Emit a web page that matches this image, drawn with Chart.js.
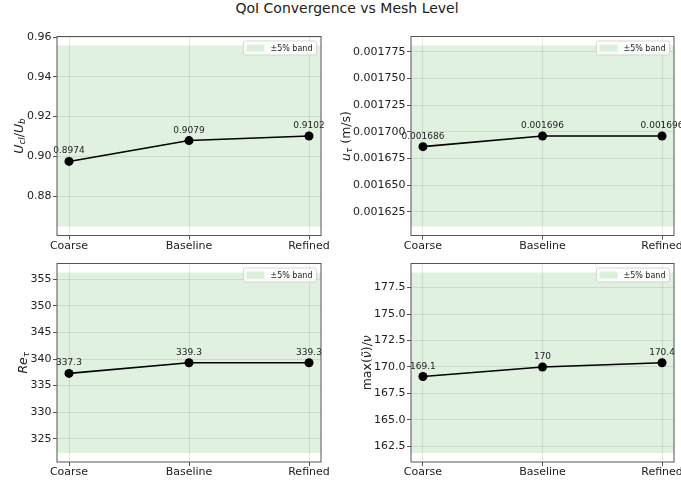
<!DOCTYPE html>
<html lang="en">

<head>
  <meta charset="UTF-8">
  <title>QoI Convergence vs Mesh Level</title>
  <script src="https://cdn.jsdelivr.net/npm/chart.js"></script>
  <style>
    body {
      margin: 0;
      width: 681px;
      height: 484px;
      overflow: hidden;
      background: #fff;
      position: relative;
      font-family: "DejaVu Sans", sans-serif;
    }

    canvas {
      position: absolute;
      left: 0;
      top: 0;
    }

    #title {
      position: absolute;
      left: 347px;
      top: 0;
      transform: translateX(-50%);
      white-space: nowrap;
      font-size: 14px;
      line-height: 16px;
      color: #222;
    }
  </style>
</head>

<body>
  <div id="title">QoI Convergence vs Mesh Level</div>
  <canvas id="c1" width="681" height="484"></canvas>
  <canvas id="c2" width="681" height="484"></canvas>
  <canvas id="c3" width="681" height="484"></canvas>
  <canvas id="c4" width="681" height="484"></canvas>

  <script>
    var meshLevels = ['Coarse', 'Baseline', 'Refined'];

    var uclValues = [0.8974, 0.9079, 0.9102];
    var utauValues = [0.001686, 0.001696, 0.001696];
    var retauValues = [337.3, 339.3, 339.3];
    var nutValues = [169.1, 170.0, 170.4];

    var uclTicks = [0.88, 0.90, 0.92, 0.94, 0.96];
    var utauTicks = [0.001625, 0.00165, 0.001675, 0.0017, 0.001725, 0.00175, 0.001775];
    var retauTicks = [325, 330, 335, 340, 345, 350, 355];
    var nutTicks = [162.5, 165.0, 167.5, 170.0, 172.5, 175.0, 177.5];

    var bandLabel = '\u00b15% band';
    var bandFrac = 0.05;

    var FONT = '"DejaVu Sans"';
    var TEXT = '#222';
    var SPINE = '#555';
    var BAND = 'rgba(44,160,44,0.15)';

    // chart area boxes: left, top, right, bottom (page pixels)
    var panels = [
      { id: 'c1', values: uclValues, ticks: uclTicks, dec: 2, area: [57, 36.5, 321, 235.5], labelX: 18, yW: 50,
        label: [{ t: 'U', it: 1 }, { t: 'cl', it: 1, sub: 1 }, { t: '/', it: 0 }, { t: 'U', it: 1 }, { t: 'b', it: 1, sub: 1 }] },
      { id: 'c2', values: utauValues, ticks: utauTicks, dec: 6, area: [411, 36.5, 674, 235.5], labelX: 345, yW: 64,
        label: [{ t: 'u', it: 1 }, { t: '\u03c4', it: 1, sub: 1 }, { t: ' (m/s)', it: 0 }] },
      { id: 'c3', values: retauValues, ticks: retauTicks, dec: 0, area: [57, 263.5, 321, 462], labelX: 22, yW: 50,
        label: [{ t: 'Re', it: 1 }, { t: '\u03c4', it: 1, sub: 1 }] },
      { id: 'c4', values: nutValues, ticks: nutTicks, dec: 1, area: [411, 263.5, 674, 462], labelX: 366, yW: 64,
        label: [{ t: 'max(', it: 0 }, { t: '\u03bd\u0303', it: 1 }, { t: ')/', it: 0 }, { t: '\u03bd', it: 1 }] }
    ];

    function fmtPoint(v) {
      return String(Number(v.toPrecision(4)));
    }

    function drawRich(ctx, segs, cx, cy, size) {
      ctx.save();
      ctx.translate(cx, cy);
      ctx.rotate(-Math.PI / 2);
      var fontFor = function (s) {
        return (s.it ? 'italic ' : '') + (s.sub ? size * 0.7 : size) + 'px ' + FONT;
      };
      var total = 0;
      segs.forEach(function (s) {
        ctx.font = fontFor(s);
        s.w = ctx.measureText(s.t).width;
        total += s.w;
      });
      var x = -total / 2;
      ctx.fillStyle = TEXT;
      ctx.textBaseline = 'alphabetic';
      ctx.textAlign = 'left';
      segs.forEach(function (s) {
        ctx.font = fontFor(s);
        ctx.fillText(s.t, x, size * 0.36 + (s.sub ? size * 0.22 : 0));
        x += s.w;
      });
      ctx.restore();
    }

    var panelPlugin = {
      id: 'panelDeco',
      beforeDraw: function (chart, args, opts) {
        var ctx = chart.ctx, a = chart.chartArea, y = chart.scales.y;
        var yHi = y.getPixelForValue(opts.bandHi), yLo = y.getPixelForValue(opts.bandLo);
        ctx.save();
        ctx.fillStyle = BAND;
        ctx.fillRect(a.left, yHi, a.right - a.left, yLo - yHi);
        ctx.restore();
      },
      afterDatasetsDraw: function (chart, args, opts) {
        var ctx = chart.ctx, a = chart.chartArea;
        var meta = chart.getDatasetMeta(0);
        ctx.save();
        ctx.font = '9px ' + FONT;
        ctx.fillStyle = TEXT;
        ctx.textAlign = 'center';
        ctx.textBaseline = 'alphabetic';
        meta.data.forEach(function (pt, i) {
          ctx.fillText(fmtPoint(opts.values[i]), pt.x, pt.y - 8);
        });

        // spines
        ctx.strokeStyle = SPINE;
        ctx.lineWidth = 1;
        ctx.strokeRect(a.left, a.top, a.right - a.left, a.bottom - a.top);

        // legend
        ctx.font = '8px ' + FONT;
        var tw = ctx.measureText(bandLabel).width;
        var w = tw + 31, h = 14;
        var x0 = a.right - 4.5 - w, y0 = a.top + 4.5;
        ctx.beginPath();
        ctx.roundRect(x0, y0, w, h, 2);
        ctx.fillStyle = 'rgba(255,255,255,0.8)';
        ctx.fill();
        ctx.strokeStyle = 'rgba(204,204,204,0.8)';
        ctx.stroke();
        ctx.fillStyle = BAND;
        ctx.fillRect(x0 + 3, y0 + 3.5, 18, 7);
        ctx.fillStyle = TEXT;
        ctx.textAlign = 'left';
        ctx.textBaseline = 'middle';
        ctx.fillText(bandLabel, x0 + 27, y0 + h / 2 + 0.5);

        // y axis title
        drawRich(ctx, opts.label, opts.labelX, (a.top + a.bottom) / 2, 12.5);
        ctx.restore();
      }
    };

    function noPad(s) {
      s.paddingLeft = 0;
      s.paddingRight = 0;
      s.paddingTop = 0;
      s.paddingBottom = 0;
    }

    panels.forEach(function (p) {
      var ref = p.values[p.values.length - 1];
      var bandLo = ref * (1 - bandFrac), bandHi = ref * (1 + bandFrac);
      var pad = (bandHi - bandLo) * 0.05;
      var n = meshLevels.length;
      var yW = p.yW, xH = 25;
      var L = p.area[0], T = p.area[1], R = p.area[2], B = p.area[3];

      new Chart(document.getElementById(p.id).getContext('2d'), {
        type: 'line',
        data: {
          datasets: [{
            data: p.values.map(function (v, i) { return { x: i, y: v }; }),
            borderColor: '#000',
            borderWidth: 1.6,
            pointRadius: 4.5,
            pointBackgroundColor: '#000',
            pointBorderWidth: 0,
            tension: 0,
            clip: false
          }]
        },
        options: {
          responsive: false,
          animation: false,
          events: [],
          layout: {
            padding: { left: L - yW, top: T, right: 681 - R, bottom: 484 - B - xH }
          },
          plugins: {
            legend: { display: false },
            tooltip: { enabled: false },
            panelDeco: {
              bandLo: bandLo,
              bandHi: bandHi,
              values: p.values,
              label: p.label,
              labelX: p.labelX
            }
          },
          scales: {
            x: {
              type: 'linear',
              min: -0.05 * (n - 1),
              max: 1.05 * (n - 1),
              afterBuildTicks: function (s) {
                s.ticks = meshLevels.map(function (_, i) { return { value: i }; });
              },
              afterFit: function (s) { s.height = xH; noPad(s); },
              border: { display: false },
              grid: { color: 'rgba(0,0,0,0.09)', tickColor: SPINE, tickLength: 4, tickWidth: 1 },
              ticks: {
                callback: function (v) { return meshLevels[v]; },
                font: { family: FONT, size: 11 },
                color: TEXT,
                padding: 0,
                maxRotation: 0,
                autoSkip: false
              }
            },
            y: {
              min: bandLo - pad,
              max: bandHi + pad,
              afterBuildTicks: function (s) {
                s.ticks = p.ticks.map(function (v) { return { value: v }; });
              },
              afterFit: function (s) { s.width = yW; noPad(s); },
              border: { display: false },
              grid: { color: 'rgba(0,0,0,0.09)', tickColor: SPINE, tickLength: 4, tickWidth: 1 },
              ticks: {
                callback: function (v) { return Number(v).toFixed(p.dec); },
                font: { family: FONT, size: 11 },
                color: TEXT,
                padding: 1.5
              }
            }
          }
        },
        plugins: [panelPlugin]
      });
    });
  </script>
</body>

</html>
